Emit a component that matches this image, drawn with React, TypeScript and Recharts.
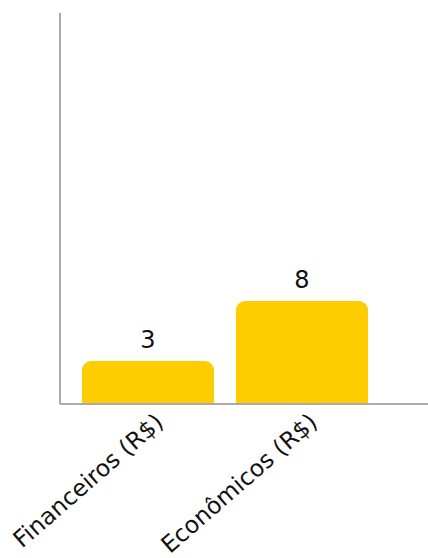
import React from "react";
import { BarChart, Bar, XAxis, YAxis, LabelList } from "recharts";

const categories = ["Financeiros (R$)", "Econômicos (R$)"];
const values = [3.3, 7.9];
const yDomain = [0, 30];

const data = categories.map((name, i) => ({ name, value: values[i] }));

const FONT = "'DejaVu Sans', sans-serif";

export default function App() {
  return (
    <div style={{ position: "absolute", left: 0, top: 0 }}>
      <BarChart
        width={428}
        height={558}
        data={data}
        margin={{ top: 13, right: 0, bottom: 0, left: 0 }}
        barCategoryGap={11}
      >
        <YAxis
          width={60}
          domain={yDomain}
          tick={false}
          tickLine={false}
          axisLine={{ stroke: "#aaaaaa", strokeWidth: 2 }}
        />
        <XAxis
          dataKey="name"
          height={154}
          padding={{ left: 11, right: 49 }}
          tickLine={false}
          axisLine={{ stroke: "#aaaaaa", strokeWidth: 2 }}
          interval={0}
          angle={-41}
          textAnchor="end"
          tick={{ fill: "#111111", fontSize: 23.5, fontFamily: FONT, dx: 6 }}
        />
        <Bar dataKey="value" fill="#FFCC00" radius={[9, 9, 0, 0]} isAnimationActive={false}>
          <LabelList
            dataKey="value"
            position="top"
            offset={13}
            formatter={(v: number) => String(Math.round(v))}
            style={{ fill: "#111111", fontSize: 24, fontFamily: FONT }}
          />
        </Bar>
      </BarChart>
    </div>
  );
}
